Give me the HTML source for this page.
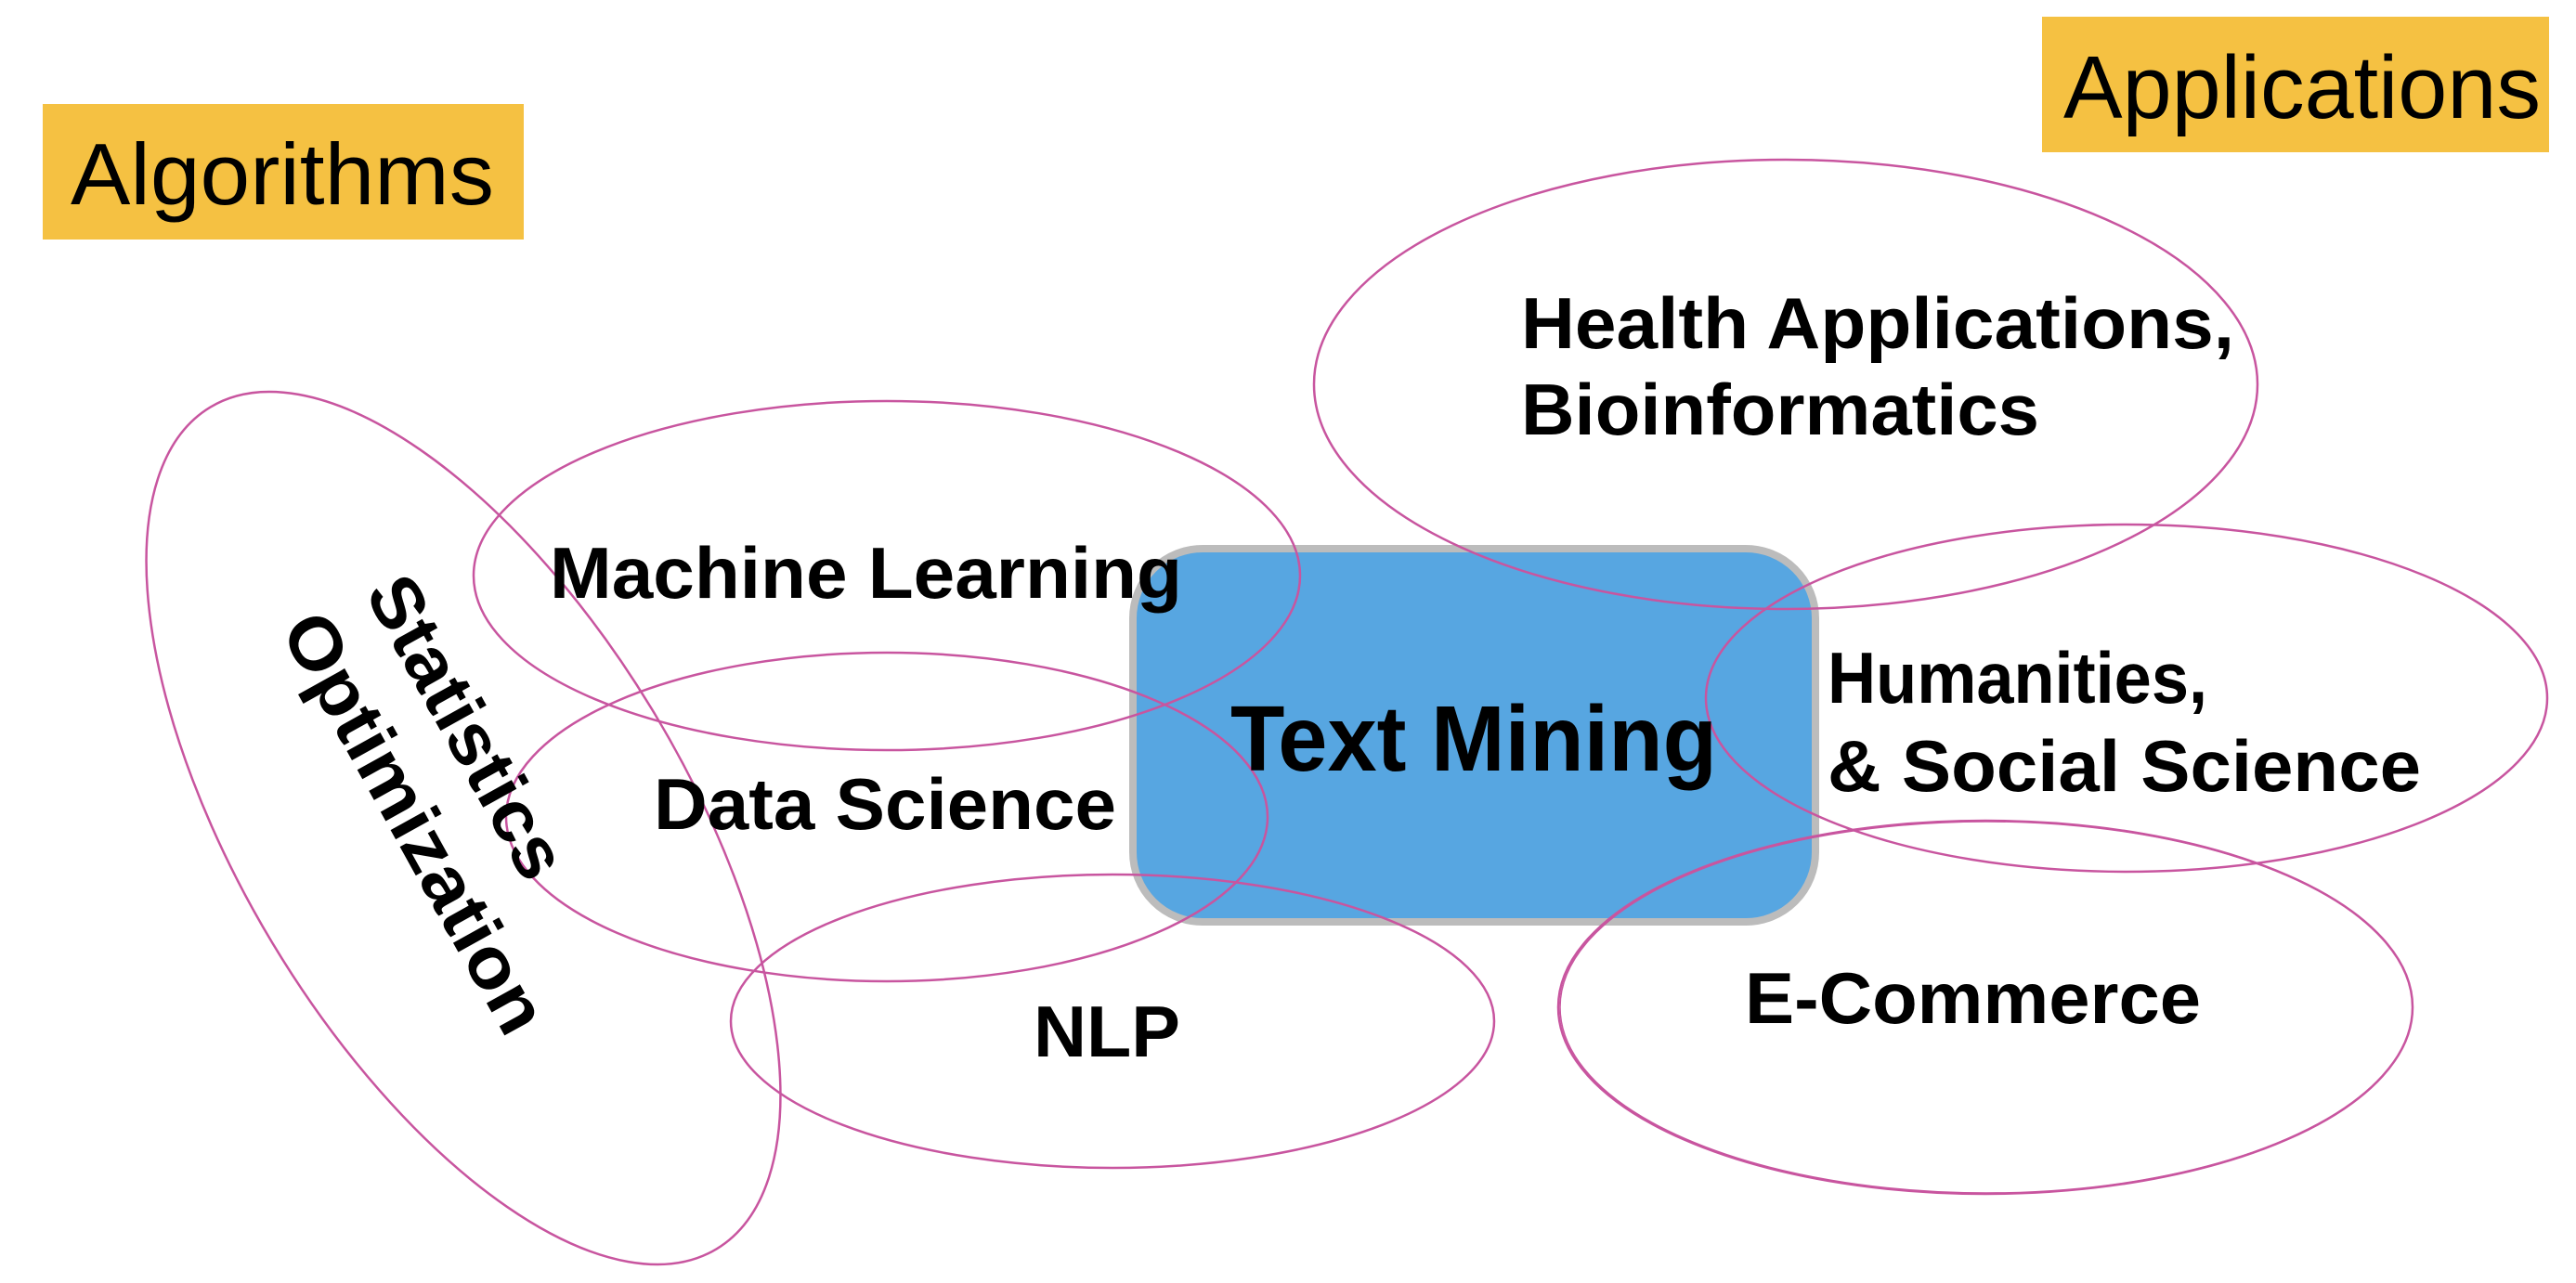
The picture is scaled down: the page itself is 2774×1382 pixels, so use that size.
<!DOCTYPE html>
<html><head><meta charset="utf-8"><style>
html,body{margin:0;padding:0;background:#fff;width:2774px;height:1382px;overflow:hidden;}
svg{display:block;}
text{font-family:"Liberation Sans",Arial,sans-serif;}
</style></head><body>
<svg width="2774" height="1382" viewBox="0 0 2774 1382" xmlns="http://www.w3.org/2000/svg">
<rect x="0" y="0" width="2774" height="1382" fill="#fff"/>
<rect x="46" y="112" width="518" height="146" fill="#f5c142"/>
<text x="76" y="220" font-size="94" textLength="456" lengthAdjust="spacingAndGlyphs" fill="#000">Algorithms</text>
<rect x="2199" y="18" width="546" height="146" fill="#f5c142"/>
<text x="2222" y="127" font-size="96" textLength="514" lengthAdjust="spacingAndGlyphs" fill="#000">Applications</text>

<rect x="1220" y="591" width="735" height="402" rx="75" ry="75" fill="#57a6e1" stroke="#bcbcbc" stroke-width="8"/>

<g fill="none" stroke="#c8559f" stroke-width="2.5">
<ellipse cx="499" cy="892" rx="529" ry="240" transform="rotate(59 499 892)"/>
<ellipse cx="955" cy="620" rx="445" ry="188"/>
<ellipse cx="955" cy="880" rx="410" ry="177"/>
<ellipse cx="1198" cy="1100" rx="411" ry="158"/>
<ellipse cx="1923" cy="414" rx="508" ry="242"/>
<ellipse cx="2290" cy="752" rx="453" ry="187"/>
<ellipse cx="2138" cy="1085" rx="460" ry="201"/>
<ellipse cx="2139" cy="1085" rx="459" ry="200" stroke-width="1.5"/>
</g>

<g font-weight="bold" fill="#000">
<text x="1325" y="830" font-size="100" textLength="524" lengthAdjust="spacingAndGlyphs">Text Mining</text>
<text x="592" y="644" font-size="78" textLength="681" lengthAdjust="spacingAndGlyphs">Machine Learning</text>
<text x="704" y="893" font-size="78" textLength="498" lengthAdjust="spacingAndGlyphs">Data Science</text>
<text x="1113" y="1138" font-size="78" textLength="158" lengthAdjust="spacingAndGlyphs">NLP</text>
<text x="1638" y="375" font-size="78" textLength="768" lengthAdjust="spacingAndGlyphs">Health Applications,</text>
<text x="1638" y="468" font-size="78" textLength="558" lengthAdjust="spacingAndGlyphs">Bioinformatics</text>
<text x="1968" y="757" font-size="78" textLength="409" lengthAdjust="spacingAndGlyphs">Humanities,</text>
<text x="1968" y="852" font-size="78" textLength="639" lengthAdjust="spacingAndGlyphs">&amp; Social Science</text>
<text x="1879" y="1102" font-size="78" textLength="491" lengthAdjust="spacingAndGlyphs">E-Commerce</text>
<g transform="translate(503 783) rotate(61)">
<text x="0" y="0" font-size="78" text-anchor="middle" dominant-baseline="central" textLength="360" lengthAdjust="spacingAndGlyphs">Statistics</text>
</g>
<g transform="translate(447 886) rotate(61)">
<text x="0" y="0" font-size="78" text-anchor="middle" dominant-baseline="central" textLength="505" lengthAdjust="spacingAndGlyphs">Optimization</text>
</g>
</g>
</svg>
</body></html>
